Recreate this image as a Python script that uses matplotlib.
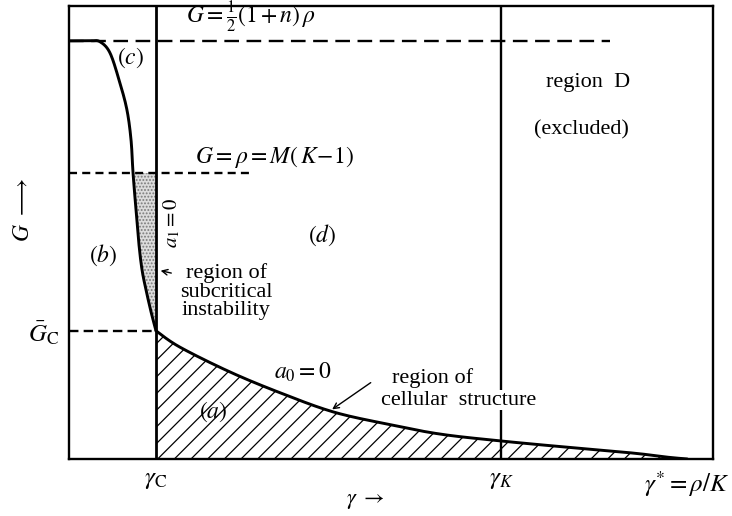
import numpy as np
import matplotlib.pyplot as plt

plt.rcParams['font.family'] = ['Liberation Serif', 'DejaVu Serif']
plt.rcParams['mathtext.fontset'] = 'stix'
plt.rcParams['hatch.linewidth'] = 0.9

# neutral curve, upper branch (a1 = 0) running down to G_c
upper_gamma = [0.0, 0.0326, 0.048, 0.0637, 0.079, 0.090, 0.0963, 0.0994, 0.104, 0.1087, 0.1134, 0.1196, 0.1273, 0.135]
upper_G = [0.923, 0.923, 0.921, 0.896, 0.830, 0.770, 0.704, 0.631, 0.550, 0.472, 0.417, 0.373, 0.325, 0.283]

# lower branch (a0 = 0) from gamma_C out to gamma*
lower_gamma = [0.135, 0.172, 0.250, 0.328, 0.410, 0.494, 0.576, 0.669, 0.773, 0.876, 0.929, 0.960]
lower_G = [0.283, 0.247, 0.192, 0.146, 0.104, 0.077, 0.055, 0.040, 0.026, 0.013, 0.004, 0.0]

gamma_c = 0.135
gamma_k = 0.671
gamma_star = 0.960
G_top = 0.923   # G = (1+n) rho / 2
G_rho = 0.631   # G = rho = M(K-1)
G_c = 0.283


def smooth(xs, ys, n=24):
    # Catmull-Rom spline through the given points
    p = np.column_stack([xs, ys])
    p = np.vstack([p[0], p, p[-1]])
    t = np.linspace(0, 1, n, endpoint=False)[:, None]
    out = []
    for i in range(1, len(p) - 2):
        p0, p1, p2, p3 = p[i - 1], p[i], p[i + 1], p[i + 2]
        out.append(0.5 * (2 * p1 + (-p0 + p2) * t
                          + (2 * p0 - 5 * p1 + 4 * p2 - p3) * t ** 2
                          + (-p0 + 3 * p1 - 3 * p2 + p3) * t ** 3))
    out.append(p[-2][None])
    c = np.vstack(out)
    return c[:, 0], c[:, 1]


ux, uy = smooth(upper_gamma, upper_G)
lx, ly = smooth(lower_gamma, lower_G)

fig = plt.figure(figsize=(7.32, 5.16), dpi=100)
ax = fig.add_axes([0.0943, 0.1105, 0.8798, 0.878])
ax.set_xlim(0, 1)
ax.set_ylim(0, 1)
for s in ax.spines.values():
    s.set_linewidth(1.7)

# subcritical region between the curve and gamma_C
m = uy <= G_rho + 1e-9
ax.fill_betweenx(uy[m], ux[m], gamma_c, facecolor='#dcdcdc', edgecolor='#7a7a7a',
                 hatch='.....', linewidth=0)

# cellular structure region under a0 = 0
ax.fill_between(lx, 0, ly, facecolor='none', edgecolor='black',
                hatch='//', linewidth=0)

# dashed reference levels
ax.plot([0, 0.840], [G_top, G_top], color='black', lw=1.7, dashes=(6.2, 3.2))
ax.plot([0, 0.281], [G_rho, G_rho], color='black', lw=1.7, dashes=(3.4, 2.2))
ax.plot([0, gamma_c], [G_c, G_c], color='black', lw=1.7, dashes=(4.0, 2.2))

# vertical boundaries
ax.axvline(gamma_c, color='black', lw=2.0)
ax.axvline(gamma_k, color='black', lw=1.7)

# the neutral curve
ax.plot(ux, uy, color='black', lw=2.1, solid_capstyle='round')
ax.plot(lx, ly, color='black', lw=2.1, solid_capstyle='round')

fs = 16
fm = 17
ax.text(0.181, 0.974, r'$G=\frac{1}{2}(1+n)\,\rho$', fontsize=fm, ha='left', va='center')
ax.text(0.095, 0.885, r'$(c)$', fontsize=fm, ha='center', va='center')
ax.text(0.196, 0.667, r'$G=\rho=M(\,K\!-\!1)$', fontsize=fm, ha='left', va='center')
ax.text(0.160, 0.521, r'$a_1=0$', fontsize=15, ha='center', va='center', rotation=90)
ax.text(0.053, 0.450, r'$(b)$', fontsize=fm, ha='center', va='center')
ax.text(0.393, 0.494, r'$(d)$', fontsize=fm, ha='center', va='center')
ax.text(0.224, 0.104, r'$(a)$', fontsize=fm, ha='center', va='center')
ax.text(0.363, 0.192, r'$a_0=0$', fontsize=fm, ha='center', va='center')

ax.text(0.244, 0.369, 'region of\nsubcritical\ninstability', fontsize=fs,
        ha='center', va='center', linespacing=0.95)
ax.annotate('', xy=(0.138, 0.417), xytext=(0.163, 0.409),
            arrowprops=dict(arrowstyle='->', color='black', lw=1.0))

ax.text(0.502, 0.179, 'region of', fontsize=fs, ha='left', va='center')
ax.text(0.484, 0.130, 'cellular  structure', fontsize=fs, ha='left', va='center',
        bbox=dict(facecolor='white', edgecolor='none', pad=0.5))
ax.annotate('', xy=(0.405, 0.106), xytext=(0.472, 0.172),
            arrowprops=dict(arrowstyle='->', color='black', lw=1.0))

ax.text(0.806, 0.832, 'region  D', fontsize=fs, ha='center', va='center')
ax.text(0.796, 0.726, '(excluded)', fontsize=fs, ha='center', va='center')

ax.set_xticks([gamma_c, gamma_k, gamma_star])
ax.set_xticklabels([r'$\gamma_{\mathrm{C}}$', r'$\gamma_{K}$', r'$\gamma^{*}=\rho/K$'], fontsize=18)
ax.set_yticks([G_c])
ax.set_yticklabels([r'$\bar{G}_{\mathrm{C}}$'], fontsize=18)
ax.tick_params(length=0, pad=7)
ax.tick_params(axis='y', pad=7)

ax.set_xlabel(r'$\gamma\ \rightarrow$', fontsize=16)
ax.xaxis.set_label_coords(0.46, -0.072)
ax.set_ylabel(r'$G\ \longrightarrow$', fontsize=fm)
ax.yaxis.set_label_coords(-0.055, 0.55)

fig.savefig('out.png', dpi=100, facecolor='white')
